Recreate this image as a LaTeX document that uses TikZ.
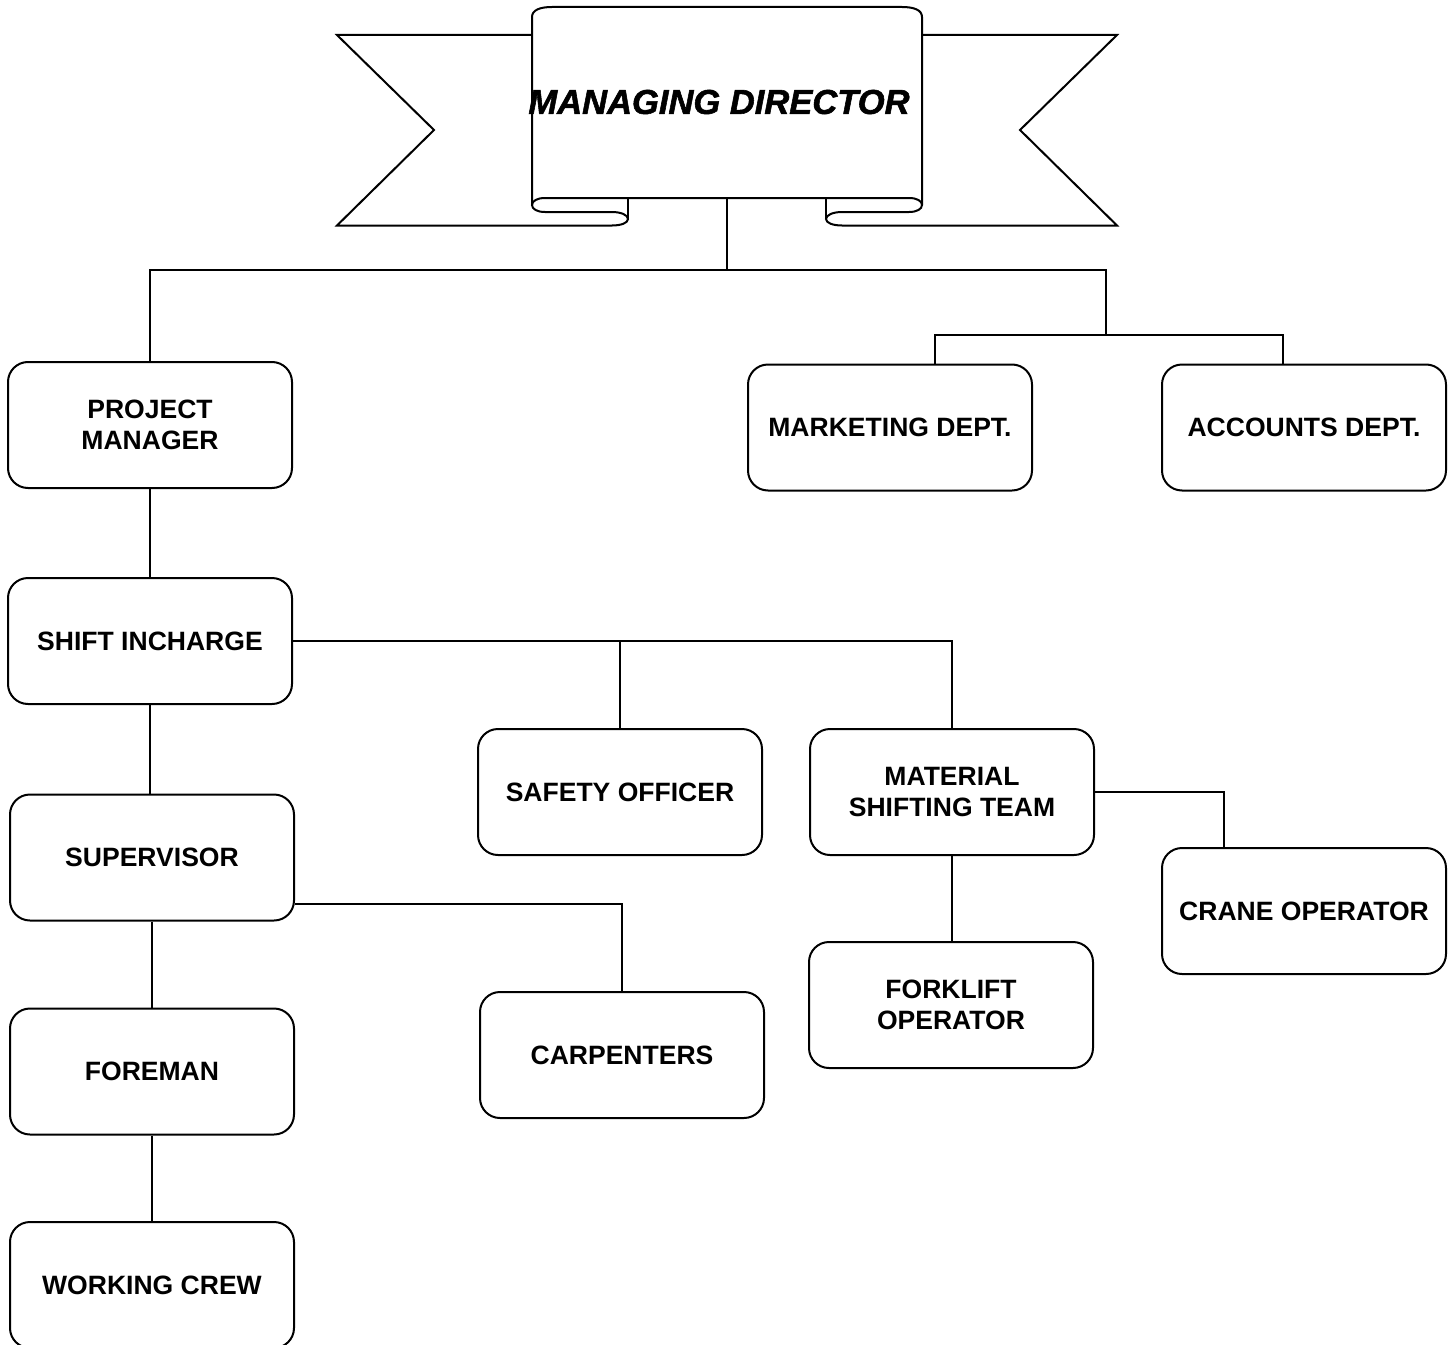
\documentclass[tikz,border=0pt]{standalone}
\usepackage{fontspec}
\setmainfont{Liberation Sans}
\newfontfamily\mdfam{Liberation Sans}[BoldItalicFeatures={FakeBold=1.6}]
\usetikzlibrary{calc}
\begin{document}
\begin{tikzpicture}[x=0.75pt,y=-0.75pt,
  box/.style={draw,line width=1.5pt,rounded corners=15pt,minimum width=213pt,minimum height=94.5pt,inner sep=0pt,align=center,font=\fontsize{19.9}{23.25}\selectfont\bfseries},
  conn/.style={line width=1.1pt},
  ban/.style={line width=1.5pt,line join=miter}]
\useasboundingbox (0,0) rectangle (1453,1345);
\clip (0,0) rectangle (1453,1345);
% banner tails
\draw[ban] (532,35) -- (337,35) -- (434,130) -- (337,225.5) -- (612,225.5);
\draw[ban] (922,35) -- (1117,35) -- (1020,130) -- (1117,225.5) -- (842,225.5);
% central panel
\draw[ban] (532,205) -- (532,17) .. controls (532,10) and (540,7) .. (552,7) -- (902,7) .. controls (914,7) and (922,10) .. (922,17) -- (922,205);
% bottom edge with curls
\draw[ban] (545,212) .. controls (537,212) and (532,209) .. (532,205) .. controls (532,201) and (537,198) .. (545,198) -- (909,198) .. controls (917,198) and (922,201) .. (922,205) .. controls (922,209) and (917,212) .. (909,212) -- (842,212) .. controls (833,212) and (826,215) .. (826,219) .. controls (826,223) and (833,225.5) .. (842,225.5);
\draw[ban] (545,212) -- (612,212) .. controls (621,212) and (628,215) .. (628,219) .. controls (628,223) and (621,225.5) .. (612,225.5);
\draw[ban] (628,198) -- (628,219);
\draw[ban] (826,198) -- (826,219);
\node[minimum width=292.5pt,minimum height=143.25pt,inner sep=0pt] (md) at (727,102.5) {};
\node[inner sep=0pt,font=\mdfam\fontsize{25.9}{30}\selectfont\bfseries\itshape] (mdlabel) at (719,102) {MANAGING DIRECTOR};
% boxes
\node[box] (pm) at (150,425) {PROJECT\\MANAGER};
\node[box] (si) at (150,641) {SHIFT INCHARGE};
\node[box] (sup) at (152,857.5) {SUPERVISOR};
\node[box] (fore) at (152,1071.5) {FOREMAN};
\node[box] (crew) at (152,1285) {WORKING CREW};
\node[box] (safe) at (620,792) {SAFETY OFFICER};
\node[box] (mat) at (952,792) {MATERIAL\\SHIFTING TEAM};
\node[box] (fork) at (951,1005) {FORKLIFT\\OPERATOR};
\node[box] (crane) at (1304,911) {CRANE OPERATOR};
\node[box] (carp) at (622,1055) {CARPENTERS};
\node[box] (mkt) at (890,427.5) {MARKETING DEPT.};
\node[box] (acc) at (1304,427.5) {ACCOUNTS DEPT.};
% connectors
\coordinate (j1) at (727,270);
\coordinate (jr) at (1106,335);
\coordinate (mx) at (935,0);
\coordinate (ax) at (1283,0);
\coordinate (cx) at (1224,0);
\coordinate (sy) at (0,904);
\draw[conn] (md.south) -- (j1);
\draw[conn] (pm.north) |- (j1) -| (jr);
\draw[conn] (mkt.north -| mx) |- (jr) -| (acc.north -| ax);
\draw[conn] (pm.south) -- (si.north);
\draw[conn] (si.east) -| (mat.north);
\draw[conn] (safe.north) -- (safe.north |- si.east);
\draw[conn] (si.south) -- (si.south |- sup.north);
\draw[conn] (sup.east |- sy) -| (carp.north);
\draw[conn] (sup.south) -- (sup.south |- fore.north);
\draw[conn] (fore.south) -- (fore.south |- crew.north);
\draw[conn] (mat.east) -| (crane.north -| cx);
\draw[conn] (mat.south) -- (mat.south |- fork.north);
\end{tikzpicture}
\end{document}
